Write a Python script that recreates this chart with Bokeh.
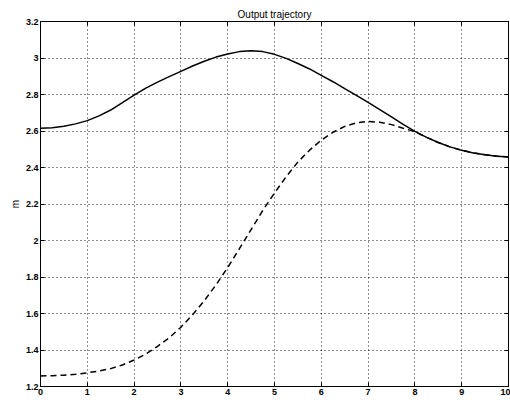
from bokeh.plotting import figure
from bokeh.models import Range1d, LinearAxis, FixedTicker
from bokeh.embed import file_html
from bokeh.resources import INLINE

t = [0, 0.25, 0.5, 0.75, 1, 1.25, 1.5, 1.75, 2, 2.25, 2.5, 2.75, 3, 3.25, 3.5, 3.75,
     4, 4.25, 4.5, 4.75, 5, 5.25, 5.5, 5.75, 6, 6.25, 6.5, 6.75, 7, 7.25, 7.5, 7.75,
     8, 8.25, 8.5, 8.75, 9, 9.25, 9.5, 9.75, 10]
solid = [2.615, 2.618, 2.626, 2.639, 2.657, 2.683, 2.715, 2.755, 2.797, 2.835, 2.868, 2.898,
         2.927, 2.956, 2.982, 3.005, 3.022, 3.035, 3.04, 3.035, 3.02, 2.998, 2.97, 2.94,
         2.905, 2.87, 2.832, 2.795, 2.757, 2.717, 2.677, 2.636, 2.598, 2.565, 2.537,
         2.513, 2.494, 2.48, 2.47, 2.462, 2.458]
dashed = [1.258, 1.259, 1.262, 1.267, 1.275, 1.285, 1.298, 1.318, 1.345, 1.378, 1.42, 1.467,
          1.525, 1.593, 1.67, 1.757, 1.852, 1.955, 2.06, 2.165, 2.26, 2.35, 2.43, 2.495,
          2.55, 2.593, 2.625, 2.645, 2.652, 2.648, 2.635, 2.615, 2.596, 2.565, 2.537,
          2.513, 2.494, 2.48, 2.47, 2.462, 2.458]
x_ticks = [0, 1, 2, 3, 4, 5, 6, 7, 8, 9, 10]
y_ticks = [1.2, 1.4, 1.6, 1.8, 2.0, 2.2, 2.4, 2.6, 2.8, 3.0, 3.2]
y_labels = {1.2: "1.2", 1.4: "1.4", 1.6: "1.6", 1.8: "1.8", 2.0: "2", 2.2: "2.2",
            2.4: "2.4", 2.6: "2.6", 2.8: "2.8", 3.0: "3", 3.2: "3.2"}

FONT = "Liberation Sans"

p = figure(width=510, height=402, output_backend="svg", toolbar_location=None,
           x_range=Range1d(0, 10), y_range=Range1d(1.2, 3.2),
           min_border_left=40, min_border_right=2, min_border_top=21, min_border_bottom=16)
p.title.text = "Output trajectory"
p.title.align = "center"
p.title.text_font = FONT
p.title.text_font_size = "10px"
p.title.text_font_style = "normal"
p.title.text_color = "black"
p.title.standoff = 4
p.title.offset = 0

p.outline_line_color = "black"
p.outline_line_width = 1
p.background_fill_color = "white"
p.border_fill_color = "white"

for ax in p.xaxis:
    ax.ticker = FixedTicker(ticks=x_ticks)
for ax in p.yaxis:
    ax.ticker = FixedTicker(ticks=y_ticks)
    ax.major_label_overrides = y_labels
    ax.axis_label = "m"
    ax.axis_label_text_font = FONT
    ax.axis_label_text_font_size = "10px"
    ax.axis_label_text_font_style = "normal"
    ax.axis_label_text_color = "black"
    ax.axis_label_standoff = 2

for ax in list(p.xaxis) + list(p.yaxis):
    ax.major_tick_in = 4
    ax.major_tick_out = 0
    ax.minor_tick_in = 0
    ax.minor_tick_out = 0
    ax.axis_line_color = "black"
    ax.major_tick_line_color = "black"
    ax.major_label_text_font = FONT
    ax.major_label_text_font_size = "9px"
    ax.major_label_text_font_style = "bold"
    ax.major_label_text_color = "black"
    ax.major_label_standoff = 2

right = LinearAxis(ticker=FixedTicker(ticks=y_ticks), major_tick_in=4, major_tick_out=0,
                   minor_tick_in=0, minor_tick_out=0,
                   major_label_overrides={v: "" for v in y_ticks},
                   major_label_standoff=0, axis_line_color="black")
top = LinearAxis(ticker=FixedTicker(ticks=x_ticks), major_tick_in=4, major_tick_out=0,
                 minor_tick_in=0, minor_tick_out=0,
                 major_label_overrides={v: "" for v in x_ticks},
                 major_label_standoff=0, axis_line_color="black")
p.add_layout(right, "right")
p.add_layout(top, "above")

for g in [p.xgrid[0], p.ygrid[0]]:
    g.grid_line_color = "black"
    g.grid_line_dash = "1 3"
    g.grid_line_width = 1
    g.grid_line_alpha = 0.9
p.xgrid[0].ticker = FixedTicker(ticks=x_ticks)
p.ygrid[0].ticker = FixedTicker(ticks=y_ticks)

p.line(t, solid, line_color="black", line_width=1.5)
p.line(t, dashed, line_color="black", line_width=1.5, line_dash="6 4")

open("out.html", "w").write(file_html(p, INLINE))
